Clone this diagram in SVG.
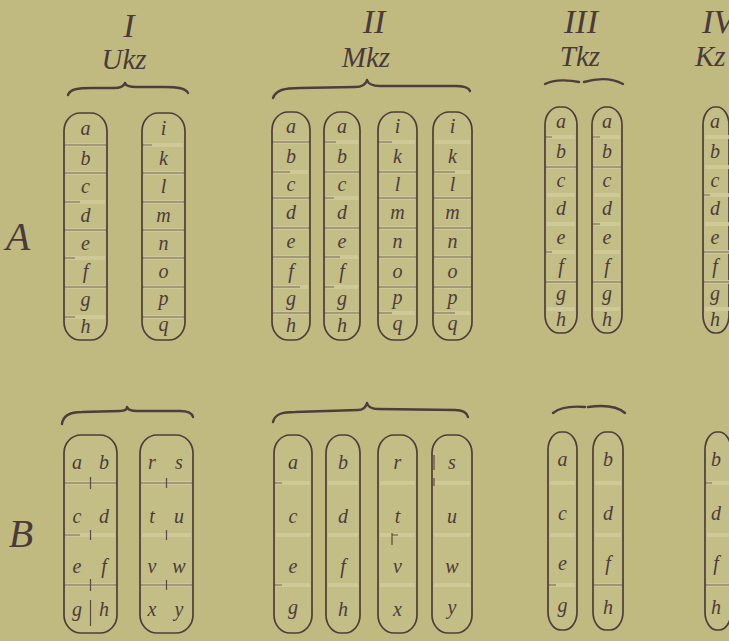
<svg xmlns="http://www.w3.org/2000/svg" width="729" height="641" viewBox="0 0 729 641">
<style>
.cap{fill:#c3bd86;stroke:#4e3d3c;stroke-width:1.7}
.dv{stroke:#5a4944;stroke-width:1.1;opacity:0.75}
.pb{stroke:#d3cd9c;stroke-width:4;opacity:0.8}
.tk{stroke:#5a4944;stroke-width:1.2}
.lt{font-family:"Liberation Serif",serif;font-style:italic;font-size:20px;fill:#4d3c3b;text-anchor:middle}
.hd{font-family:"Liberation Serif",serif;font-style:italic;font-size:29px;fill:#4a3a3a;text-anchor:middle}
.num{font-family:"Liberation Serif",serif;font-style:italic;font-size:34px;fill:#4a3a3a;text-anchor:middle}
.big{font-family:"Liberation Serif",serif;font-style:italic;font-size:40px;fill:#4a3a3a;text-anchor:middle}
.br{fill:none;stroke:#4e3d3c;stroke-width:2.4;stroke-linecap:round;stroke-linejoin:round}
</style>
<rect width="729" height="641" fill="#c0ba80"/>

<g id="headers">
<text class="num" x="129" y="37">I</text>
<text class="hd" x="124" y="69">Ukz</text>
<text class="num" x="374" y="33">II</text>
<text class="hd" x="366" y="67">Mkz</text>
<text class="num" x="581" y="33">III</text>
<text class="hd" x="580" y="66">Tkz</text>
<text class="num" x="702" y="33" style="text-anchor:start">IV</text>
<text class="hd" x="695" y="66" style="text-anchor:start">Kz</text>
<text class="big" x="18" y="250">A</text>
<text class="big" x="21" y="547">B</text>
</g>

<g id="braces">
<path class="br" d="M68,95 C70,89 78,88 92,88 L114,88 C121,88 124,86 125,83 C126,86 129,87 136,87 L164,87 C178,87 186,88 188,93"/>
<path class="br" d="M273,98 C276,90 284,88 300,88 L355,87 C362,87 366,84 367,80 C368,84 372,86 380,86 L455,86 C465,86 469,88 470,91"/>
<path class="br" d="M545,84 C555,79 570,80 579,82"/>
<path class="br" d="M584,82 C598,78 612,78 623,84"/>
<path class="br" d="M62,424 C63,415 70,412 82,412 L120,411 C125,411 127,409 127,407 C128,410 131,411 137,411 L180,411 C188,411 192,413 193,417"/>
<path class="br" d="M273,422 C275,414 282,412 295,412 L358,410 C363,410 366,407 367,403 C368,407 371,409 378,409 L455,410 C463,410 467,413 468,417"/>
<path class="br" d="M553,413 C560,407 572,406 585,407"/>
<path class="br" d="M588,407 C602,405 616,405 625,413"/>
</g>

<!-- Row A, group I -->
<g id="IA1">
<rect class="cap" x="64" y="113" width="43" height="227" rx="16" ry="18"/>
<path class="pb" d="M66,145H105M66,173H105M66,202H105M66,230H105M66,258H105M66,287H105M66,317H105"/>
<path class="dv" d="M64,145H107M64,173H107M64,202H80M64,230H107M64,258H75M64,287H107M64,317H75"/>
<text class="lt" x="85.5" y="135">a</text><text class="lt" x="85.5" y="165">b</text><text class="lt" x="85.5" y="193">c</text><text class="lt" x="85.5" y="222">d</text><text class="lt" x="85.5" y="250">e</text><text class="lt" x="85.5" y="278">f</text><text class="lt" x="85.5" y="306">g</text><text class="lt" x="85.5" y="333">h</text>
</g>
<g id="IA2">
<rect class="cap" x="142" y="113" width="43" height="227" rx="16" ry="18"/>
<path class="pb" d="M144,145H183M144,173H183M144,202H183M144,230H183M144,258H183M144,287H183M144,317H183"/>
<path class="dv" d="M142,145H152M142,173H185M142,202H185M142,230H185M142,258H185M142,287H185M142,317H185"/>
<text class="lt" x="163.5" y="135">i</text><text class="lt" x="163.5" y="165">k</text><text class="lt" x="163.5" y="193">l</text><text class="lt" x="163.5" y="222">m</text><text class="lt" x="163.5" y="250">n</text><text class="lt" x="163.5" y="278">o</text><text class="lt" x="163.5" y="305">p</text><text class="lt" x="163.5" y="331">q</text>
</g>

<!-- Row A, group II -->
<g id="IIA1">
<rect class="cap" x="272" y="112" width="38" height="228" rx="16" ry="18"/>
<path class="pb" d="M274,142H308M274,172H308M274,198H308M274,228H308M274,257H308M274,287H308M274,313H308"/>
<path class="dv" d="M272,142H310M272,172H290M272,198H310M272,228H310M272,257H310M272,287H300M272,313H310"/>
<text class="lt" x="291" y="133">a</text><text class="lt" x="291" y="163">b</text><text class="lt" x="291" y="191">c</text><text class="lt" x="291" y="219">d</text><text class="lt" x="291" y="248">e</text><text class="lt" x="291" y="278">f</text><text class="lt" x="291" y="305">g</text><text class="lt" x="291" y="332">h</text>
</g>
<g id="IIA2">
<rect class="cap" x="324" y="112" width="36" height="228" rx="16" ry="18"/>
<path class="pb" d="M326,142H358M326,172H358M326,198H358M326,228H358M326,257H358M326,287H358M326,313H358"/>
<path class="dv" d="M324,142H336M324,172H360M324,198H334M324,228H360M324,257H340M324,287H334M324,313H360"/>
<text class="lt" x="342" y="133">a</text><text class="lt" x="342" y="163">b</text><text class="lt" x="342" y="191">c</text><text class="lt" x="342" y="219">d</text><text class="lt" x="342" y="248">e</text><text class="lt" x="342" y="278">f</text><text class="lt" x="342" y="305">g</text><text class="lt" x="342" y="332">h</text>
</g>
<g id="IIA3">
<rect class="cap" x="378" y="112" width="39" height="228" rx="16" ry="18"/>
<path class="pb" d="M380,142H415M380,172H415M380,198H415M380,228H415M380,257H415M380,287H415M380,313H415"/>
<path class="dv" d="M378,142H392M378,172H417M378,198H417M378,228H417M378,257H417M378,287H417M378,313H392"/>
<text class="lt" x="397.5" y="133">i</text><text class="lt" x="397.5" y="163">k</text><text class="lt" x="397.5" y="191">l</text><text class="lt" x="397.5" y="219">m</text><text class="lt" x="397.5" y="248">n</text><text class="lt" x="397.5" y="278">o</text><text class="lt" x="397.5" y="304">p</text><text class="lt" x="397.5" y="330">q</text>
</g>
<g id="IIA4">
<rect class="cap" x="433" y="112" width="39" height="228" rx="16" ry="18"/>
<path class="pb" d="M435,142H470M435,172H470M435,198H470M435,228H470M435,257H470M435,287H470M435,313H470"/>
<path class="dv" d="M433,172H455M433,198H472M433,228H472M433,257H472M433,287H472M433,313H455"/>
<text class="lt" x="452.5" y="133">i</text><text class="lt" x="452.5" y="163">k</text><text class="lt" x="452.5" y="191">l</text><text class="lt" x="452.5" y="219">m</text><text class="lt" x="452.5" y="248">n</text><text class="lt" x="452.5" y="278">o</text><text class="lt" x="452.5" y="304">p</text><text class="lt" x="452.5" y="330">q</text>
</g>

<!-- Row A, group III -->
<g id="IIIA1">
<rect class="cap" x="545" y="107" width="32" height="226" rx="14" ry="18"/>
<path class="pb" d="M547,137H575M547,167H575M547,195H575M547,224H575M547,252H575M547,282H575M547,309H575"/>
<path class="dv" d="M545,137H552M545,167H577M545,252H552M545,282H577"/>
<text class="lt" x="561" y="128">a</text><text class="lt" x="561" y="158">b</text><text class="lt" x="561" y="187">c</text><text class="lt" x="561" y="215">d</text><text class="lt" x="561" y="244">e</text><text class="lt" x="561" y="273">f</text><text class="lt" x="561" y="300">g</text><text class="lt" x="561" y="326">h</text>
</g>
<g id="IIIA2">
<rect class="cap" x="592" y="107" width="30" height="226" rx="14" ry="18"/>
<path class="pb" d="M594,137H620M594,167H620M594,195H620M594,224H620M594,252H620M594,282H620M594,309H620"/>
<path class="dv" d="M592,137H600M592,167H622M592,224H600M592,282H622"/>
<text class="lt" x="607" y="128">a</text><text class="lt" x="607" y="158">b</text><text class="lt" x="607" y="187">c</text><text class="lt" x="607" y="215">d</text><text class="lt" x="607" y="244">e</text><text class="lt" x="607" y="273">f</text><text class="lt" x="607" y="300">g</text><text class="lt" x="607" y="326">h</text>
</g>

<!-- Row A, group IV -->
<g id="IVA">
<rect class="cap" x="703" y="107" width="26" height="226" rx="12" ry="18"/>
<path class="pb" d="M705,137H729M705,167H729M705,195H729M705,224H729M705,252H729M705,282H729M705,309H729"/>
<path class="dv" d="M703,195H710M703,252H729M703,282H729"/>
<text class="lt" x="715" y="128">a</text><text class="lt" x="715" y="158">b</text><text class="lt" x="715" y="187">c</text><text class="lt" x="715" y="215">d</text><text class="lt" x="715" y="244">e</text><text class="lt" x="715" y="273">f</text><text class="lt" x="715" y="300">g</text><text class="lt" x="715" y="326">h</text>
</g>

<!-- Row B, group I -->
<g id="IB1">
<rect class="cap" x="64" y="435" width="53" height="198" rx="17" ry="18"/>
<path class="pb" d="M66,483H115M66,535H115M66,585H115"/>
<path class="dv" d="M64,483H117M64,535H80M64,585H117"/>
<path class="tk" d="M90.5,477V489M90.5,530V540M90.5,579V591M90.5,600V626"/>
<text class="lt" x="77" y="469">a</text><text class="lt" x="104" y="469">b</text>
<text class="lt" x="77" y="523">c</text><text class="lt" x="104" y="523">d</text>
<text class="lt" x="77" y="573">e</text><text class="lt" x="104" y="573">f</text>
<text class="lt" x="77" y="616">g</text><text class="lt" x="104" y="616">h</text>
</g>
<g id="IB2">
<rect class="cap" x="140" y="435" width="53" height="198" rx="17" ry="18"/>
<path class="pb" d="M142,483H191M142,535H191M142,585H191"/>
<path class="dv" d="M140,483H193M140,585H193"/>
<path class="tk" d="M166.5,478V488M166.5,530V540M166.5,580V590"/>
<text class="lt" x="152" y="469">r</text><text class="lt" x="179" y="469">s</text>
<text class="lt" x="152" y="523">t</text><text class="lt" x="179" y="523">u</text>
<text class="lt" x="152" y="573">v</text><text class="lt" x="179" y="573">w</text>
<text class="lt" x="152" y="616">x</text><text class="lt" x="179" y="616">y</text>
</g>

<!-- Row B, group II -->
<g id="IIB1">
<rect class="cap" x="274" y="435" width="38" height="198" rx="16" ry="18"/>
<path class="pb" d="M276,483H310M276,535H310M276,585H310"/>
<path class="dv" d="M274,483H282M274,585H282"/>
<text class="lt" x="293" y="469">a</text><text class="lt" x="293" y="523">c</text><text class="lt" x="293" y="573">e</text><text class="lt" x="293" y="614">g</text>
</g>
<g id="IIB2">
<rect class="cap" x="326" y="435" width="34" height="198" rx="15" ry="18"/>
<path class="pb" d="M328,483H358M328,535H358M328,585H358"/>
<text class="lt" x="343" y="469">b</text><text class="lt" x="343" y="523">d</text><text class="lt" x="343" y="573">f</text><text class="lt" x="343" y="616">h</text>
</g>
<g id="IIB3">
<rect class="cap" x="378" y="435" width="39" height="198" rx="16" ry="18"/>
<path class="pb" d="M380,483H415M380,535H415M380,585H415"/>
<path class="tk" d="M392,533V545M392,535H398"/>
<text class="lt" x="397.5" y="469">r</text><text class="lt" x="397.5" y="523">t</text><text class="lt" x="397.5" y="573">v</text><text class="lt" x="397.5" y="616">x</text>
</g>
<g id="IIB4">
<rect class="cap" x="432" y="435" width="40" height="198" rx="16" ry="18"/>
<path class="pb" d="M434,483H470M434,535H470M434,585H470"/>
<path class="tk" d="M434,455V470M434,478V486"/>
<text class="lt" x="452" y="469">s</text><text class="lt" x="452" y="523">u</text><text class="lt" x="452" y="573">w</text><text class="lt" x="452" y="614">y</text>
</g>

<!-- Row B, group III -->
<g id="IIIB1">
<rect class="cap" x="548" y="432" width="29" height="198" rx="13" ry="18"/>
<path class="pb" d="M550,483H575M550,535H575M550,585H575"/>
<path class="dv" d="M548,585H556"/>
<text class="lt" x="562.5" y="466">a</text><text class="lt" x="562.5" y="520">c</text><text class="lt" x="562.5" y="570">e</text><text class="lt" x="562.5" y="612">g</text>
</g>
<g id="IIIB2">
<rect class="cap" x="593" y="432" width="30" height="198" rx="13" ry="18"/>
<path class="pb" d="M595,483H621M595,535H621M595,585H621"/>
<path class="dv" d="M593,585H623"/>
<text class="lt" x="608" y="466">b</text><text class="lt" x="608" y="520">d</text><text class="lt" x="608" y="570">f</text><text class="lt" x="608" y="614">h</text>
</g>

<!-- Row B, group IV -->
<g id="IVB">
<rect class="cap" x="705" y="432" width="26" height="198" rx="12" ry="18"/>
<path class="pb" d="M707,483H729M707,535H729M707,585H729"/>
<path class="dv" d="M705,483H712M705,585H729"/>
<text class="lt" x="716" y="466">b</text><text class="lt" x="716" y="520">d</text><text class="lt" x="716" y="570">f</text><text class="lt" x="716" y="614">h</text>
</g>
</svg>
